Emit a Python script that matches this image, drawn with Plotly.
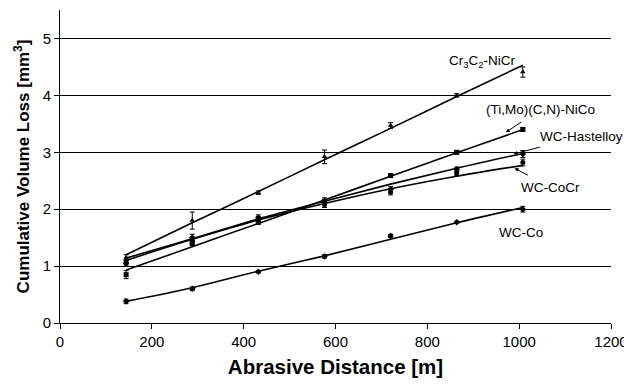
import plotly.graph_objects as go

distance = [144, 288, 432, 576, 720, 864, 1008]

cr3c2_data = [1.15, 1.80, 2.29, 2.92, 3.47, 4.00, 4.41]
cr3c2_err = [0.05, 0.15, 0.03, 0.12, 0.05, 0.03, 0.09]
cr3c2_fit = [1.20, 1.76, 2.31, 2.87, 3.42, 3.98, 4.53]

timo_data = [0.85, 1.41, 1.77, 2.13, 2.59, 3.00, 3.40]
timo_err = [0.07, 0.05, 0.03, 0.04, 0.03, 0.03, 0.03]
timo_fit = [0.93, 1.34, 1.75, 2.16, 2.58, 2.99, 3.40]

hast_data = [1.05, 1.50, 1.85, 2.15, 2.35, 2.70, 2.97]
hast_err = [0.05, 0.06, 0.05, 0.05, 0.05, 0.04, 0.06]
hast_fit = [1.14, 1.48, 1.83, 2.14, 2.44, 2.72, 2.98]

cocr_data = [1.07, 1.45, 1.82, 2.08, 2.30, 2.63, 2.82]
cocr_err = [0.05, 0.06, 0.05, 0.05, 0.05, 0.04, 0.06]
cocr_fit = [1.10, 1.47, 1.81, 2.10, 2.36, 2.58, 2.77]

wcco_data = [0.38, 0.60, 0.90, 1.17, 1.53, 1.77, 2.00]
wcco_err = [0.04, 0.03, 0.02, 0.03, 0.03, 0.02, 0.05]
wcco_fit = [0.38, 0.62, 0.91, 1.18, 1.47, 1.76, 2.03]

series = [
    ("Cr3C2-NiCr", cr3c2_data, cr3c2_err, cr3c2_fit, "triangle-up"),
    ("(Ti,Mo)(C,N)-NiCo", timo_data, timo_err, timo_fit, "square"),
    ("WC-Hastelloy", hast_data, hast_err, hast_fit, "diamond"),
    ("WC-CoCr", cocr_data, cocr_err, cocr_fit, "circle"),
    ("WC-Co", wcco_data, wcco_err, wcco_fit, "diamond"),
]

fig = go.Figure()
for name, data, err, fit, sym in series:
    fig.add_trace(go.Scatter(
        x=distance, y=fit, mode="lines", name=name + " fit",
        line=dict(color="black", width=1.6, shape="spline"),
        showlegend=False, hoverinfo="skip"))
    fig.add_trace(go.Scatter(
        x=distance, y=data, mode="markers", name=name,
        marker=dict(symbol=sym, size=5, color="black"),
        error_y=dict(type="data", array=err, visible=True,
                     color="black", thickness=1, width=2.5),
        showlegend=False))

font = "Liberation Sans, Arial, sans-serif"
ann_font = dict(family=font, size=13.5, color="black")

annotations = [
    dict(x=918, y=4.60, text="Cr<sub>3</sub>C<sub>2</sub>-NiCr", showarrow=False),
    dict(x=971, y=3.35, ax=1047, ay=3.76, text="(Ti,Mo)(C,N)-NiCo"),
    dict(x=988, y=2.97, ax=1135, ay=3.28, text="WC-Hastelloy"),
    dict(x=990, y=2.72, ax=1069, ay=2.38, text="WC-CoCr"),
    dict(x=1004, y=1.59, text="WC-Co", showarrow=False),
]
for a in annotations:
    base = dict(xref="x", yref="y", font=ann_font)
    if "ax" in a:
        base.update(axref="x", ayref="y", showarrow=True, arrowhead=2,
                    arrowsize=0.8, arrowwidth=1, arrowcolor="black",
                    standoff=0, startstandoff=7)
    base.update(a)
    fig.add_annotation(**base)

fig.update_layout(
    width=624, height=379,
    margin=dict(l=52, r=21, t=2, b=64),
    paper_bgcolor="white", plot_bgcolor="white",
    font=dict(family=font, color="black"),
    xaxis=dict(
        range=[0, 1200], tickmode="array",
        tickvals=[0, 200, 400, 600, 800, 1000, 1200],
        showgrid=False, zeroline=False, automargin=False,
        showline=True, linecolor="black", linewidth=1,
        ticks="outside", ticklen=5, tickcolor="black",
        tickfont=dict(size=15, family=font, color="black"),
        title=dict(text="<b>Abrasive Distance [m]</b>",
                   font=dict(size=20.5, family=font, color="black"),
                   standoff=10),
    ),
    yaxis=dict(
        range=[0, 5.5], tickmode="array",
        tickvals=[0, 1, 2, 3, 4, 5],
        showgrid=True, gridcolor="black", gridwidth=1.2,
        zeroline=False, automargin=False,
        showline=True, linecolor="black", linewidth=1,
        ticks="outside", ticklen=5, tickcolor="black",
        tickfont=dict(size=15, family=font, color="black"),
        title=dict(text="<b>Cumulative Volume Loss [mm<sup>3</sup>]</b>",
                   font=dict(size=17, family=font, color="black"),
                   standoff=8),
    ),
)

fig.write_html("out.html")
